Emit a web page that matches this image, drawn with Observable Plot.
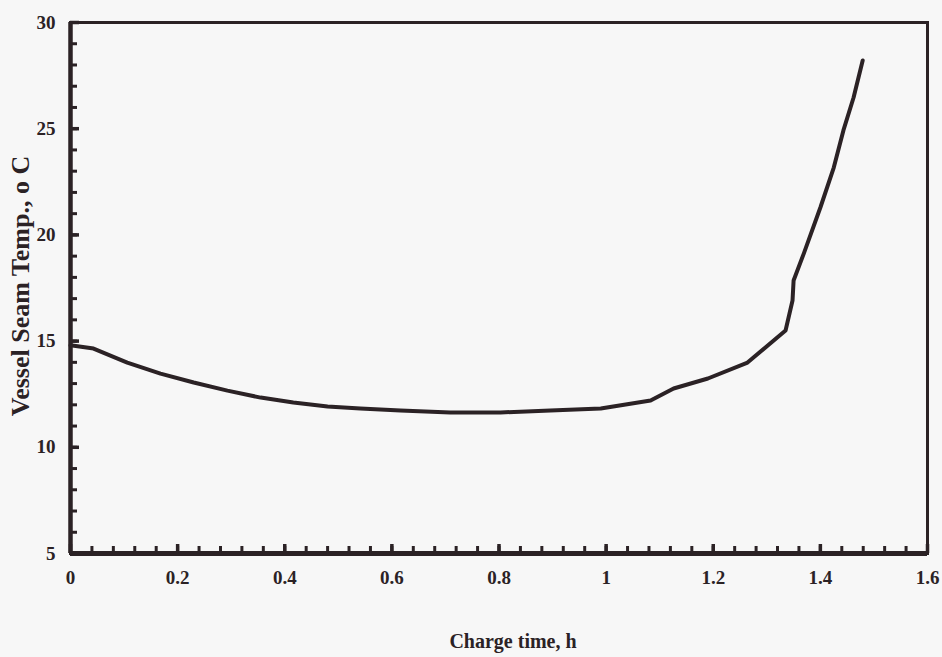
<!DOCTYPE html>
<html>
<head>
<meta charset="utf-8">
<script src="https://cdn.jsdelivr.net/npm/d3@7"></script>
<script src="https://cdn.jsdelivr.net/npm/@observablehq/plot@0.6"></script>
<style>
  html, body { margin: 0; padding: 0; background: #f7f7f7; }
  #chart svg { background: #f7f7f7; display: block; }
</style>
</head>
<body>
<div id="chart"></div>
<script>
// Charge time (h)
const timeH = [0, 0.043, 0.106, 0.168, 0.23, 0.293, 0.355, 0.416, 0.48, 0.541, 0.616, 0.709, 0.803, 0.896, 0.99, 1.083, 1.126, 1.19, 1.264, 1.335, 1.348, 1.35, 1.369, 1.40, 1.425, 1.443, 1.462, 1.479];
// Vessel seam temperature (°C)
const tempC = [14.8, 14.65, 13.99, 13.47, 13.05, 12.67, 12.34, 12.11, 11.92, 11.83, 11.73, 11.64, 11.64, 11.73, 11.83, 12.2, 12.77, 13.24, 13.99, 15.5, 16.91, 17.85, 19.12, 21.29, 23.17, 24.92, 26.47, 28.21];

const xMajorTicks = [0, 0.2, 0.4, 0.6, 0.8, 1, 1.2, 1.4, 1.6];
const xMinorTicks = d3.range(1, 40).map(i => +(i * 0.04).toFixed(2));
const yMajorTicks = [5, 10, 15, 20, 25, 30];
const yMinorTicks = d3.range(6, 30);

const xLabel = "Charge time, h";
const yLabel = "Vessel Seam Temp., o C";

const data = timeH.map((t, i) => ({t, v: tempC[i]}));
const ink = "#2b2225";
const font = "'Liberation Serif', 'Times New Roman', serif";

const W = 942, H = 657, mL = 70, mR = 15, mT = 22, mB = 104;
const plotW = W - mL - mR, plotH = H - mT - mB;

const chart = Plot.plot({
  width: W,
  height: H,
  marginLeft: mL,
  marginRight: mR,
  marginTop: mT,
  marginBottom: mB,
  style: {background: "#f7f7f7", fontFamily: font, color: ink},
  x: {domain: [0, 1.6]},
  y: {domain: [5, 30]},
  marks: [
    Plot.frame({stroke: ink, strokeWidth: 3}),
    // inward ticks (minor then major)
    Plot.tickX(xMinorTicks, {x: d => d, stroke: ink, strokeWidth: 3, insetTop: plotH - 7}),
    Plot.tickX(xMajorTicks, {x: d => d, stroke: ink, strokeWidth: 3.5, insetTop: plotH - 9}),
    Plot.tickY(yMinorTicks, {y: d => d, stroke: ink, strokeWidth: 3, insetRight: plotW - 7}),
    Plot.tickY(yMajorTicks, {y: d => d, stroke: ink, strokeWidth: 3.5, insetRight: plotW - 9}),
    Plot.ruleX([0], {stroke: ink, strokeWidth: 4.5}),
    Plot.ruleY([5], {stroke: ink, strokeWidth: 5}),
    // tick labels
    Plot.axisX(xMajorTicks, {tickSize: 0, tickPadding: 17, fontSize: 19, fontWeight: "bold", fill: ink, label: null, tickFormat: d => String(d), letterSpacing: "-0.5px"}),
    Plot.axisY(yMajorTicks, {tickSize: 0, tickPadding: 15, fontSize: 19, fontWeight: "bold", fill: ink, label: null, letterSpacing: "-0.5px"}),
    Plot.line(data, {x: "t", y: "v", stroke: ink, strokeWidth: 4, strokeLinejoin: "round", strokeLinecap: "round"}),
    Plot.text([xLabel], {frameAnchor: "bottom", dx: 14, dy: 94, fontSize: 20, fontWeight: "bold", fill: ink, letterSpacing: "-0.8px"}),
    Plot.text([yLabel], {frameAnchor: "left", textAnchor: "middle", dx: -50, dy: -2, rotate: -90, fontSize: 26, fontWeight: "bold", fill: ink, letterSpacing: "1.6px"})
  ]
});
document.getElementById("chart").appendChild(chart);
</script>
</body>
</html>
